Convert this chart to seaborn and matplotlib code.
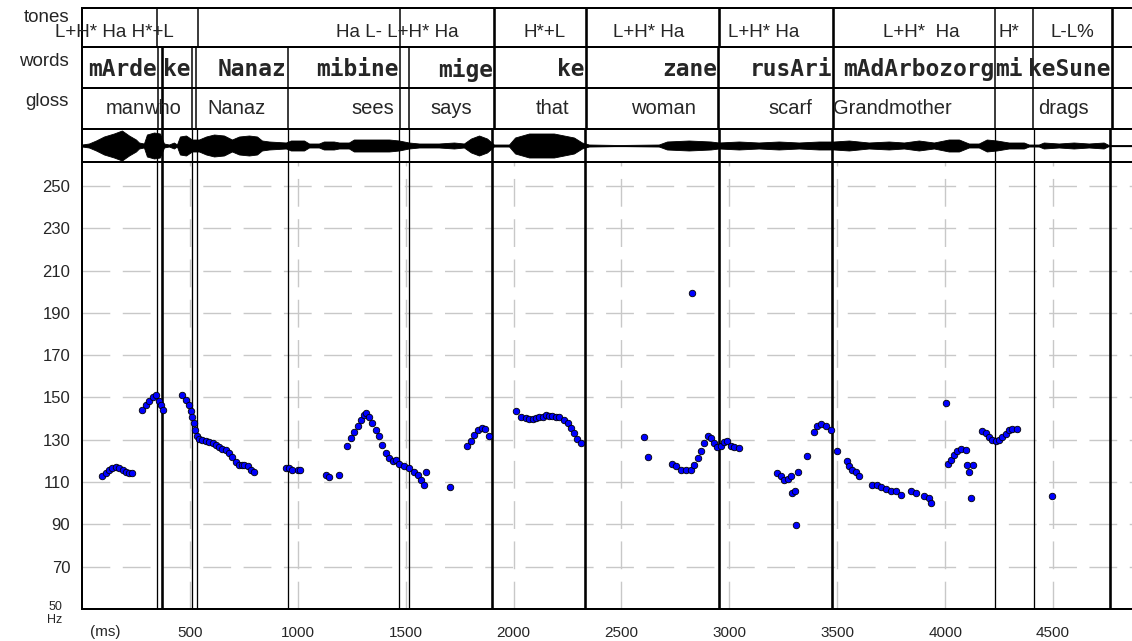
import matplotlib
matplotlib.use("Agg")
import matplotlib.pyplot as plt
import seaborn as sns

# ---------------- data ----------------
pitch_ms = [95, 111, 126, 141, 157, 172, 188, 203, 218, 234,
            280, 296, 311, 327, 342, 355, 366, 376,
            463, 481, 494, 505, 512, 520, 525, 531, 543, 558, 574, 590, 605, 620, 636, 651, 667, 682, 697, 713, 728, 740, 752, 767, 783, 798,
            945, 960, 975, 999, 1011,
            1130, 1145, 1192,
            1230, 1246, 1261, 1277, 1292, 1308, 1315, 1331, 1346, 1362, 1377, 1392, 1408, 1423, 1439, 1454,
            1470, 1493, 1516, 1539, 1555, 1570, 1586, 1594,
            1706,
            1786, 1802, 1817, 1833, 1853, 1868, 1884,
            2013, 2034, 2057, 2072, 2088, 2104, 2119, 2135, 2150, 2165, 2180, 2196, 2211, 2234, 2250, 2265, 2281, 2296, 2312,
            2605, 2624, 2828,
            2736, 2752, 2775, 2798, 2822, 2837, 2853, 2868, 2883, 2899, 2914, 2930, 2945, 2961, 2976, 2991, 3007, 3022, 3046,
            3223, 3239, 3254, 3270, 3285, 3292, 3305, 3310, 3320, 3362,
            3393, 3408, 3424, 3447, 3470,
            3501, 3547, 3555, 3570, 3586, 3601,
            3663, 3686, 3705, 3725, 3748, 3771, 3795, 3841, 3864, 3903, 3926, 3934,
            4003,
            4011, 4026, 4042, 4057, 4073, 4096,
            4103, 4111, 4119, 4127,
            4173, 4189, 4204, 4219, 4235, 4250, 4265, 4281, 4296, 4312, 4335,
            4494]
pitch_hz = [113.1, 114.3, 115.8, 116.9, 117.2, 116.6, 115.7, 114.7, 114.1, 114.1,
            143.9, 146.5, 148.4, 150.0, 151.3, 148.4, 146.5, 144.2,
            151.0, 148.9, 146.5, 143.4, 141.0, 137.9, 134.7, 132.0, 130.5, 130.0, 129.5, 129.0, 128.4, 127.4, 126.4, 125.8, 125.3, 123.7, 121.7, 119.4, 117.9, 118.0, 118.2, 117.4, 115.8, 114.7,
            116.6, 116.9, 115.8, 115.8, 115.8,
            113.5, 112.2, 113.2,
            127.3, 130.8, 133.9, 136.3, 139.4, 141.8, 142.9, 141.0, 137.9, 134.7, 131.6, 127.6, 123.7, 121.3, 119.8, 120.5,
            118.5, 117.4, 116.6, 115.0, 113.5, 111.1, 108.7, 115.0,
            107.6,
            126.9, 129.2, 132.4, 134.7, 135.5, 135.2, 132.0,
            143.4, 141.0, 140.2, 140.0, 139.9, 140.2, 140.6, 141.0, 141.5, 141.3, 141.2, 140.9, 140.6, 139.4, 137.9, 135.5, 133.1, 130.5, 128.4,
            131.3, 122.1, 199.4,
            118.5, 117.4, 115.8, 115.8, 115.8, 117.9, 121.3, 124.5, 128.4, 131.6, 130.8, 128.4, 126.4, 127.3, 128.9, 129.2, 127.3, 126.4, 126.1,
            114.3, 112.7, 111.1, 111.6, 112.7, 104.8, 105.9, 89.5, 115.0, 122.4,
            133.9, 136.3, 137.4, 136.3, 134.7,
            124.8, 119.8, 117.4, 115.8, 114.7, 113.1,
            108.7, 108.7, 107.8, 106.9, 105.9, 105.6, 104.0, 105.9, 105.0, 103.2, 102.4, 100.0,
            147.6,
            118.5, 120.5, 122.9, 124.8, 125.7, 125.3,
            117.9, 114.7, 102.4, 117.9,
            134.3, 133.1, 131.1, 130.0, 129.5, 130.0, 131.1, 132.7, 134.7, 135.2, 135.2,
            103.2]

wave_ms = [0, 32, 65, 102, 148, 185, 218, 250, 264, 287, 301, 334, 361, 380, 403, 426, 440,
           454, 482, 510, 542, 575, 612, 658, 695, 728, 774, 811, 834, 867, 945, 968, 1029,
           1052, 1098, 1121, 1167, 1191, 1237, 1260, 1353, 1423, 1469, 1515, 1562, 1654,
           1724, 1770, 1803, 1840, 1877, 1909, 1979, 2007, 2072, 2187, 2280, 2317, 2349,
           2488, 2673, 2711, 2812, 2914, 2951, 3044, 3136, 3229, 3322, 3415, 3484, 3554,
           3646, 3739, 3809, 3878, 3948, 4017, 4064, 4110, 4156, 4193, 4239, 4295, 4365,
           4388, 4434, 4457, 4527, 4596, 4666, 4735, 4758, 4866]
wave_amp = [1, 2, 5, 9, 12, 15, 10, 6, 3, 2, 11, 13, 12, 2, 1, 3, 1,
            9, 10, 6, 6, 9, 11, 10, 6, 9, 10, 9, 5, 4, 3, 5, 5,
            2, 2, 4, 4, 3, 3, 6, 6, 6, 5, 3, 2, 2,
            3, 2, 7, 10, 7, 1, 1, 8, 12, 12, 8, 3, 1,
            0.5, 1, 4, 5, 4, 3, 4, 3, 4, 3, 4, 4, 5,
            3, 4, 3, 5, 3, 6, 6, 2, 2, 6, 5, 3, 3,
            1, 1, 3, 2, 3, 2, 3, 0.5, 0.5]

tone_labels = ["L+H* Ha H*+L", "Ha L- L+H* Ha", "H*+L", "L+H* Ha", "L+H* Ha",
               "L+H*  Ha", "H*", "L-L%"]
tone_label_ms = [149, 1461, 2142, 2628, 3161, 3889, 4297, 4589]
tone_bounds_ms = [348, 538, 1475, 1910, 2336, 2953, 3481, 4232, 4408, 4774]

word_labels = ["mArde", "ke", "Nanaz", "mibine", "mige", "ke", "zane", "rusAri",
               "mAdArbozorg", "mi", "keSune"]
word_end_ms = [352, 511, 955, 1475, 1910, 2336, 2948, 3481, 4232, 4365, 4774]
word_bounds_ms = [352, 372, 511, 530, 955, 1475, 1516, 1910, 2336, 2948, 3481, 4232, 4408, 4774]

gloss_labels = ["man", "who", "Nanaz", "sees", "says", "that", "woman", "scarf",
                "Grandmother", "drags"]
gloss_center_ms = [201, 371, 716, 1347, 1713, 2181, 2693, 3282, 3757, 4547]

pitch_marks_ms = [348, 372, 511, 534, 955, 1470, 1516, 1901, 2332, 2953, 3476, 4232, 4412, 4764]
bold_marks_ms = [372, 1901, 1910, 2332, 2336, 2953, 2948, 3476, 3481, 4764, 4774]

x_ticks = [500, 1000, 1500, 2000, 2500, 3000, 3500, 4000, 4500]
y_ticks = [70, 90, 110, 130, 150, 170, 190, 210, 230, 250]

# ---------------- figure ----------------
sns.set_style("white")
plt.rcParams["font.family"] = ["Liberation Sans", "DejaVu Sans"]
plt.rcParams["lines.scale_dashes"] = False

W, H = 1132, 641
fig = plt.figure(figsize=(W / 100, H / 100), dpi=100)
fig.patch.set_facecolor("white")

L, R = 82, 1132
X_MAX = 4866


def add_ax(top, bottom):
    return fig.add_axes([L / W, 1 - bottom / H, (R - L) / W, (bottom - top) / H])


ax_p = add_ax(162, 609)
ax_w = add_ax(129, 162)
ax_g = add_ax(88, 129)
ax_wd = add_ax(47, 88)
ax_t = add_ax(8, 47)

PX = 0.72  # points per pixel

for a in (ax_w, ax_g, ax_wd, ax_t):
    a.set_xlim(0, X_MAX)
    a.set_ylim(0, 1)
    a.set_xticks([])
    a.set_yticks([])
    a.set_facecolor("none")
    for s in ("top", "bottom", "left"):
        a.spines[s].set_color("black")
        a.spines[s].set_linewidth(2 * PX)
    a.spines["right"].set_visible(False)

# pitch panel
ax_p.set_xlim(0, X_MAX)
ax_p.set_ylim(50, 50 + 447 / 2.115)
ax_p.set_facecolor("white")
for s in ("top", "right"):
    ax_p.spines[s].set_visible(False)
for s in ("bottom", "left"):
    ax_p.spines[s].set_color("black")
    ax_p.spines[s].set_linewidth(2 * PX)
ax_p.set_xticks(x_ticks)
ax_p.set_yticks(y_ticks)
ax_p.set_xticklabels([str(v) for v in x_ticks], fontsize=11)
ax_p.set_yticklabels([str(v) for v in y_ticks], fontsize=12)
ax_p.tick_params(axis="x", length=0, pad=12)
ax_p.tick_params(axis="y", length=0, pad=8.5)
ax_p.grid(True, color="#c8c8c8", linewidth=1.4 * PX, linestyle=(0, (20, 9)))
ax_p.set_axisbelow(True)

for m in pitch_marks_ms:
    lw = 2.6 * PX if m in bold_marks_ms else 1.3 * PX
    ax_p.axvline(m, color="black", lw=lw, zorder=3)
    ax_w.axvline(m, color="black", lw=lw, zorder=3)

sns.scatterplot(x=pitch_ms, y=pitch_hz, ax=ax_p, color="#0000ff", edgecolor="black",
                linewidth=0.6, s=22, zorder=5, legend=False)
ax_p.set_xlabel("")
ax_p.set_ylabel("")

# waveform
ax_w.set_ylim(-16.5, 16.5)
neg = [-a for a in wave_amp]
ax_w.fill_between(wave_ms, neg, wave_amp, color="black", lw=0.6, edgecolor="black")
ax_w.axhline(0, color="black", lw=1.2 * PX)

# tones tier
for b in tone_bounds_ms:
    lw = 2.6 * PX if b in bold_marks_ms else 1.5 * PX
    ax_t.axvline(b, color="black", lw=lw)
for lab, x in zip(tone_labels, tone_label_ms):
    ax_t.text(x, 0.38, lab, ha="center", va="center", fontsize=13.5, clip_on=False)

# words tier
for b in word_bounds_ms:
    lw = 2.6 * PX if b in bold_marks_ms else 1.5 * PX
    ax_wd.axvline(b, color="black", lw=lw)
    ax_g.axvline(b, color="black", lw=lw)
for lab, x in zip(word_labels, word_end_ms):
    ax_wd.text(x - 6, 0.45, lab, ha="right", va="center", fontsize=16.5,
               family="DejaVu Sans Mono", fontweight="bold", clip_on=False)

# gloss tier
for lab, x in zip(gloss_labels, gloss_center_ms):
    ax_g.text(x, 0.5, lab, ha="center", va="center", fontsize=14.5, clip_on=False)

# tier names and axis annotations
for name, py in (("tones", 18), ("words", 61), ("gloss", 101)):
    fig.text(69 / W, 1 - py / H, name, ha="right", va="center", fontsize=13.5)
fig.text(105 / W, 1 - 632 / H, "(ms)", ha="center", va="center", fontsize=11)
fig.text(62 / W, 1 - 607 / H, "50", ha="right", va="center", fontsize=9)
fig.text(62 / W, 1 - 620 / H, "Hz", ha="right", va="center", fontsize=9)

fig.savefig("out.png", dpi=100, facecolor="white")
